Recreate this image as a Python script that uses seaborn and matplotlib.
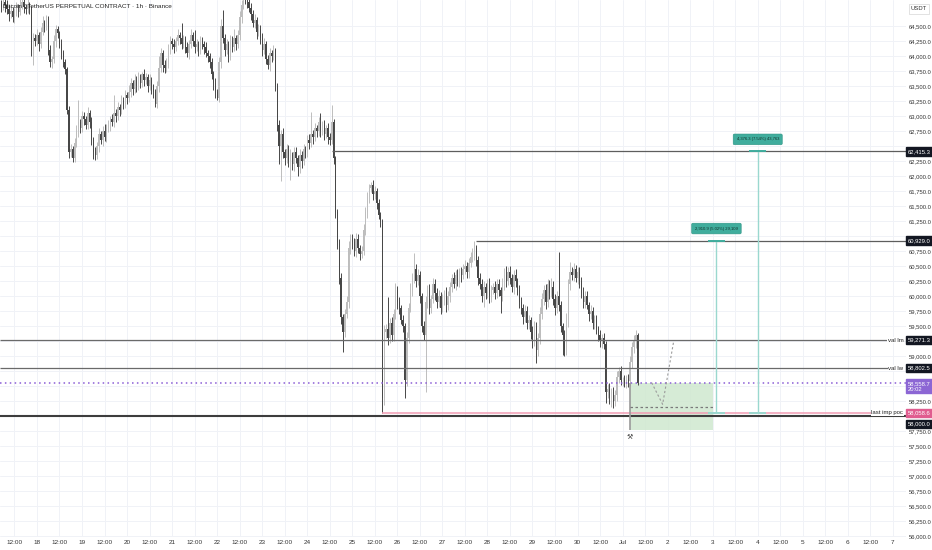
import numpy as np
import pandas as pd
import matplotlib
matplotlib.use("Agg")
import matplotlib.pyplot as plt
import matplotlib.transforms as mtransforms
import seaborn as sns

# ---------------- data ----------------
title = "Bitcoin / TetherUS PERPETUAL CONTRACT · 1h · Binance"
start_time = "2024-06-17 04:00"
base_time = "2024-06-18 00:00"
first_open = 64850

closes = [
    64880, 64820, 64900, 64850, 64780, 64700, 64760, 64650, 64720, 64800,
    64740, 64860, 64900, 64820, 64780, 64850, 64800, 64100, 64300, 64250,
    64350, 64200, 64400, 64550, 64500, 64620, 64100, 63900, 63950, 64250,
    64450, 64380, 64200, 64050, 63900, 63780, 63100, 62400, 62450, 62300,
    62550, 62750, 62900, 62800, 63000, 62950, 62850, 63050, 62900, 62600,
    62400, 62350, 62500, 62700, 62600, 62750, 62650, 62800, 62850, 62950,
    62900, 63050, 63000, 63150, 63100, 63250, 63200, 63350, 63300, 63400,
    63550, 63450, 63600, 63500, 63650, 63550, 63700, 63600, 63650, 63500,
    63600, 63450, 63400, 63200, 63500, 63800, 64050, 63850, 63800, 63900,
    64100, 64250, 64200, 64150, 64250, 64350, 64300, 64200, 64280, 64150,
    64050, 64200, 64350, 64250, 64150, 64200, 64100, 64250, 64200, 64150,
    64050, 64000, 63900, 63700, 63550, 63400, 63300, 63900, 64500, 64300,
    64100, 64200, 64000, 64250, 64150, 64300, 64200, 64350, 64650, 64850,
    65050, 64950, 64900, 64800, 64700, 64550, 64600, 64400, 64450, 64300,
    64100, 64200, 63950, 63850, 64050, 64000, 64100, 63500, 62850, 62500,
    62700, 62400, 62300, 62450, 62250, 62350, 62200, 62400, 62300, 62150,
    62350, 62250, 62450, 62400, 62600, 62550, 62700, 62650, 62800, 62750,
    62900, 62750, 62850, 62700, 62800, 62650, 62600, 62900, 62300, 61400,
    60900, 60300, 59650, 59400, 59700, 59900, 60800, 60950, 60900, 60750,
    60950, 60800, 60700, 60750, 61100, 61400, 61650, 61800, 61850, 61700,
    61750, 61550, 61350, 61250, 58300, 59400, 59450, 59300, 59550, 59350,
    59700, 60100, 59900, 59800, 59600, 59500, 58600, 59300, 59800, 60100,
    60300, 60450, 60250, 60350, 60000, 59500, 59350, 59900, 60100, 59800,
    59950, 60200, 60050, 59900, 60000, 59800, 59950, 60050, 59850, 60000,
    60150, 60300, 60200, 60350, 60250, 60400, 60350, 60450, 60500, 60400,
    60550, 60650, 60700, 60800, 60600, 60300, 60200, 60000, 60150, 60050,
    60200, 60000, 60100, 60150, 60050, 60200, 60100, 60000, 60200, 60350,
    60250, 60400, 60300, 60150, 60350, 60250, 60100, 59900, 59800, 59650,
    59750, 59550, 59600, 59400, 59250, 59500, 59100, 59300, 59700, 59950,
    60100, 59900, 60200, 60050, 60150, 59950, 59800, 60000, 59850, 59500,
    59350, 59100, 59600, 60200, 60400, 60350, 60450, 60300, 60400, 60250,
    60050, 59900, 60000, 59850, 59700, 59750, 59550, 59600, 59450, 59350,
    59250, 59300, 59200, 58400, 58450, 58300, 58400, 58250, 58350, 58650,
    58750, 58600, 58600, 58550, 58620, 58580, 58900, 59150, 59250, 59350,
    58558.7,
]

upper_wicks = [
    80, 60, 120, 50, 90, 70, 110, 60, 80, 100,
    70, 90, 60, 80, 50, 100, 60, 40, 90, 70,
    110, 60, 80, 120, 60, 70, 50, 90, 60, 100,
    70, 60, 40, 80, 50, 60, 40, 70, 90, 60,
    80, 110, 370, 60, 90, 70, 50, 100, 60, 80,
    60, 90, 70, 100, 60, 80, 120, 70, 90, 60,
    80, 300, 70, 90, 60, 110, 70, 80, 60, 120,
    90, 60, 100, 70, 80, 60, 40, 90, 70, 60,
    100, 60, 80, 50, 90, 200, 80, 60, 90, 70,
    110, 80, 60, 90, 70, 100, 60, 250, 80, 60,
    90, 70, 100, 60, 190, 80, 60, 90, 70, 60,
    80, 60, 50, 70, 60, 80, 60, 90, 120, 270,
    70, 90, 60, 100, 80, 150, 60, 90, 100, 80,
    100, 70, 90, 60, 80, 70, 100, 60, 90, 70,
    80, 100, 60, 70, 90, 60, 80, 40, 50, 90,
    70, 100, 60, 90, 70, 110, 60, 80, 90, 60,
    100, 70, 90, 60, 80, 110, 370, 70, 90, 60,
    80, 150, 70, 90, 60, 80, 70, 290, 50, 40,
    60, 50, 80, 60, 90, 100, 120, 80, 90, 70,
    110, 80, 60, 90, 100, 80, 90, 70, 55, 80,
    90, 60, 70, 50, 40, 120, 90, 540, 80, 110,
    90, 120, 70, 80, 60, 90, 50, 100, 90, 120,
    80, 270, 90, 100, 70, 60, 90, 110, 80, 100,
    70, 110, 90, 80, 100, 70, 90, 60, 100, 80,
    90, 70, 100, 80, 110, 70, 90, 80, 100, 70,
    90, 80, 100, 129, 60, 70, 80, 90, 110, 70,
    80, 100, 90, 70, 110, 80, 90, 60, 100, 120,
    150, 80, 100, 70, 90, 110, 60, 80, 90, 70,
    100, 80, 90, 60, 110, 80, 70, 90, 120, 100,
    80, 110, 90, 70, 150, 100, 80, 90, 740, 70,
    60, 80, 120, 90, 170, 80, 100, 70, 90, 80,
    70, 100, 80, 90, 60, 110, 70, 80, 90, 60,
    80, 70, 90, 60, 80, 100, 70, 90, 80, 110,
    70, 90, 60, 80, 70, 90, 100, 80, 110, 90,
    40,
]

lower_wicks = [
    60, 90, 50, 110, 70, 120, 60, 80, 100, 50,
    90, 60, 80, 100, 70, 60, 90, 100, 250, 80,
    60, 110, 70, 50, 90, 60, 80, 80, 100, 60,
    90, 70, 60, 100, 80, 70, 60, 90, 80, 60,
    70, 60, 90, 80, 60, 100, 70, 60, 90, 80,
    110, 80, 60, 90, 70, 100, 60, 80, 70, 90,
    60, 80, 100, 70, 90, 60, 80, 70, 100, 60,
    80, 100, 60, 90, 70, 80, 60, 100, 70, 90,
    60, 80, 100, 50, 70, 90, 60, 110, 80, 70,
    90, 60, 80, 100, 70, 60, 90, 80, 60, 100,
    70, 90, 60, 80, 100, 70, 90, 60, 80, 110,
    60, 90, 100, 80, 120, 90, 30, 70, 90, 80,
    100, 60, 90, 70, 80, 60, 100, 70, 80, 90,
    60, 80, 100, 70, 90, 60, 80, 110, 70, 90,
    100, 70, 80, 70, 90, 100, 60, 80, 100, 300,
    580, 90, 110, 80, 100, 310, 90, 120, 80, 140,
    90, 110, 70, 100, 80, 90, 60, 110, 70, 90,
    80, 100, 70, 90, 60, 110, 80, 70, 90, 100,
    120, 90, 110, 330, 80, 70, 100, 90, 110, 80,
    100, 80, 90, 70, 60, 80, 90, 100, 70, 90,
    80, 90, 70, 100, 240, 120, 90, 110, 80, 100,
    90, 80, 110, 100, 70, 90, 300, 100, 80, 70,
    90, 80, 100, 70, 110, 90, 80, 950, 90, 100,
    80, 70, 110, 90, 80, 100, 70, 90, 110, 80,
    90, 80, 70, 100, 80, 90, 110, 70, 80, 100,
    90, 70, 80, 100, 90, 110, 80, 90, 180, 100,
    80, 110, 90, 70, 100, 80, 90, 280, 80, 100,
    90, 70, 100, 80, 110, 90, 80, 100, 90, 110,
    80, 100, 90, 110, 120, 80, 210, 90, 100, 80,
    90, 110, 80, 100, 70, 90, 110, 80, 100, 90,
    330, 100, 80, 110, 90, 80, 100, 70, 90, 110,
    80, 100, 90, 70, 110, 80, 100, 90, 80, 100,
    90, 110, 80, 180, 100, 90, 150, 110, 80, 90,
    100, 80, 90, 70, 80, 90, 80, 100, 90, 110,
    30,
]

# horizontal levels
lvl_high = 62415.3
lvl_high_start = "2024-06-24 13:00"
lvl_mid = 60929.0
lvl_mid_start = "2024-06-27 18:00"
val_lm = 59271.3
val_lw = 58802.5
current_price = 58558.7
countdown = "20:02"
poc = 58058.6
poc_start = "2024-06-25 16:00"
round_level = 58000.0
line_end = "2024-07-06 22:00"
poc_end = "2024-07-06 17:00"

# axis tick labels hidden behind the price boxes in the reference
hidden_ticks = [62500, 61000, 59250, 58750, 58500, 58000]

# position tool
pos_start = "2024-07-01 04:00"
pos_end = "2024-07-03 00:00"
pos_top = 58558.7
pos_bottom = 57771.0
pos_mid = 58154.0

# measure tools
meas1_time = "2024-07-03 02:00"
meas1_top, meas1_bottom = 60929.0, 58058.6
meas1_text = "2,910.9 (5.02%) 29,109"
meas2_time = "2024-07-04 00:00"
meas2_top, meas2_bottom = 62415.3, 58058.6
meas2_text = "4,376.3 (7.54%) 43,763"

# projected path
proj_times = ["2024-07-01 15:30", "2024-07-01 21:20", "2024-07-02 03:10"]
proj_prices = [58560, 58200, 59240]

# axis ranges
y_min, y_max = 55988, 64938
x_min_h, x_max_h = -19.7, 463.0
tick_start = "2024-06-17 12:00"
tick_end = "2024-07-07 00:00"

# ---------------- styling ----------------
sns.set_theme(style="white")
plt.rcParams["font.family"] = ["Liberation Sans Narrow", "Liberation Sans", "DejaVu Sans"]

W, H = 932, 550
fig = plt.figure(figsize=(W / 100, H / 100), dpi=100)
fig.patch.set_facecolor("white")
ax = fig.add_axes([0, 13 / H, 906 / W, 537 / H])
ax.set_facecolor("white")

base = pd.Timestamp(base_time)


def hrs(t):
    return (pd.Timestamp(t) - base) / pd.Timedelta(hours=1)


times = pd.date_range(start_time, periods=len(closes), freq="h")
xh = np.asarray((times - base) / pd.Timedelta(hours=1), dtype=float)
c = np.array(closes, dtype=float)
o = np.array([first_open] + closes[:-1], dtype=float)
hi = np.maximum(o, c) + np.array(upper_wicks, dtype=float)
lo = np.minimum(o, c) - np.array(lower_wicks, dtype=float)
up = c >= o
light, dark = "#bdbdbd", "#474747"

ax.vlines(xh[up], lo[up], hi[up], colors=light, lw=0.7, zorder=3)
ax.vlines(xh[~up], lo[~up], hi[~up], colors=dark, lw=0.7, zorder=3)
body = np.maximum(np.abs(c - o), 12)
ax.bar(xh[up], body[up], bottom=o[up], width=0.68, color=light, lw=0, zorder=4)
ax.bar(xh[~up], body[~up], bottom=c[~up], width=0.68, color=dark, lw=0, zorder=4)

# grid / ticks
xt = pd.date_range(tick_start, tick_end, freq="12h")
xtick_pos = [hrs(t) for t in xt]
xtick_lab = []
for t in xt:
    if t.hour == 12:
        xtick_lab.append("12:00")
    elif t.day == 1:
        xtick_lab.append(t.strftime("%b"))
    else:
        xtick_lab.append(str(t.day))
ax.set_xticks(xtick_pos)
ax.set_xticklabels(xtick_lab, fontsize=4.6, color="#333333")
yt = np.arange(56000, 64501, 250)
ax.set_yticks(yt)
ax.set_yticklabels(["" if v in hidden_ticks else f"{v:,.1f}" for v in yt],
                   fontsize=4.2, color="#333333")
ax.yaxis.tick_right()
ax.tick_params(axis="y", length=0, pad=2.2)
ax.tick_params(axis="x", length=0, pad=2.5)
ax.grid(True, color="#f0f2f7", lw=0.7, zorder=0)
ax.set_axisbelow(True)
for s in ax.spines.values():
    s.set_visible(False)
ax.set_xlim(x_min_h, x_max_h)
ax.set_ylim(y_min, y_max)

trans = mtransforms.blended_transform_factory(ax.transAxes, ax.transData)
xe = hrs(line_end)

# level lines
ax.hlines(lvl_high, hrs(lvl_high_start), x_max_h, color="#5d5d5d", lw=0.9, zorder=5)
ax.hlines(lvl_mid, hrs(lvl_mid_start), x_max_h, color="#5d5d5d", lw=0.9, zorder=5)
ax.hlines(val_lm, x_min_h, xe, color="#6a6a6a", lw=0.9, zorder=5)
ax.hlines(val_lw, x_min_h, xe, color="#6a6a6a", lw=0.9, zorder=5)
ax.hlines(round_level, x_min_h, x_max_h, color="#3d3d3d", lw=1.5, zorder=5)
ax.hlines(poc, hrs(poc_start), hrs(poc_end), color="#f19cb4", lw=1.1, zorder=6)
ax.hlines(current_price, x_min_h, x_max_h, color="#8a5cd6", lw=1.1,
          linestyles=(0, (1, 2.2)), zorder=6)

for yv, txt in [(val_lm, "val lm"), (val_lw, "val lw"), (poc, "last imp poc")]:
    ax.text(0.997, yv, txt, transform=trans, ha="right", va="center",
            fontsize=4.3, color="#222222", zorder=9,
            bbox=dict(boxstyle="square,pad=0.1", fc="white", ec="none"))

# position tool
x0, x1 = hrs(pos_start), hrs(pos_end)
ax.fill_between([x0, x1], pos_bottom, pos_top, color="#cfe8cf", alpha=0.85, lw=0, zorder=2)
ax.vlines(x0, pos_bottom, pos_top, color="#9a9a9a", lw=1.2, zorder=6)
ax.hlines(pos_mid, x0, x1, color="#7a7a7a", lw=0.9, linestyles=(0, (2, 2)), zorder=6)
ax.text(x0, pos_bottom - 70, "⚒", ha="center", va="top", fontsize=5, color="#444444",
        family="DejaVu Sans", zorder=7)

# measure tools
teal_line, teal_box = "#9ad8cf", "#40ad9d"
for t_str, top, bot, txt in [(meas1_time, meas1_top, meas1_bottom, meas1_text),
                             (meas2_time, meas2_top, meas2_bottom, meas2_text)]:
    xm = hrs(t_str)
    ax.vlines(xm, bot, top, color=teal_line, lw=1.0, zorder=6)
    ax.hlines(top, xm - 4.5, xm + 4.5, color=teal_box, lw=1.4, zorder=7)
    ax.hlines(bot, xm - 4.5, xm + 4.5, color=teal_line, lw=1.4, zorder=7)
    ax.text(xm, top + 200, txt, ha="center", va="center", fontsize=3.0, color="#0f2e29",
            zorder=8, bbox=dict(boxstyle="round,pad=0.8,rounding_size=0.3",
                                fc=teal_box, ec="#2e9384", lw=0.4))

# projected path (dashed)
proj = pd.DataFrame({"h": [hrs(t) for t in proj_times], "p": proj_prices})
sns.lineplot(data=proj, x="h", y="p", ax=ax, color="#9a9a9a", lw=0.8,
             linestyle=(0, (2, 2)), sort=False, zorder=6)
ax.set_xlabel("")
ax.set_ylabel("")
ax.set_xlim(x_min_h, x_max_h)
ax.set_ylim(y_min, y_max)


# right-side price boxes
def price_box(y, text, fc, tc="white", dy=0.0, fs=4.2):
    ax.annotate(text, xy=(1.0, y), xycoords=trans, xytext=(1.3, dy),
                textcoords="offset points", ha="left", va="center",
                fontsize=fs, color=tc, zorder=12, annotation_clip=False,
                bbox=dict(boxstyle="square,pad=0.3", fc=fc, ec=fc))


price_box(lvl_high, f"{lvl_high:,.1f}", "#131722")
price_box(lvl_mid, f"{lvl_mid:,.1f}", "#131722")
price_box(val_lm, f"{val_lm:,.1f}", "#131722")
price_box(val_lw, f"{val_lw:,.1f}", "#131722")
price_box(current_price, f"{current_price:,.1f}\n{countdown}", "#8c66d4", dy=-2.5)
price_box(poc, f"{poc:,.1f}", "#e05c8f")
price_box(round_level, f"{round_level:,.1f}", "#131722", dy=-5.5)

fig.text(919 / W, 1 - 9 / H, "USDT", ha="center", va="center", fontsize=4.2,
         color="#333333", bbox=dict(boxstyle="square,pad=0.4", fc="white", ec="#d6d6d6", lw=0.5))
fig.text(3 / W, 1 - 7 / H, title, ha="left", va="center", fontsize=4.6, color="#222222")

fig.savefig("out.png", dpi=100, facecolor="white")
